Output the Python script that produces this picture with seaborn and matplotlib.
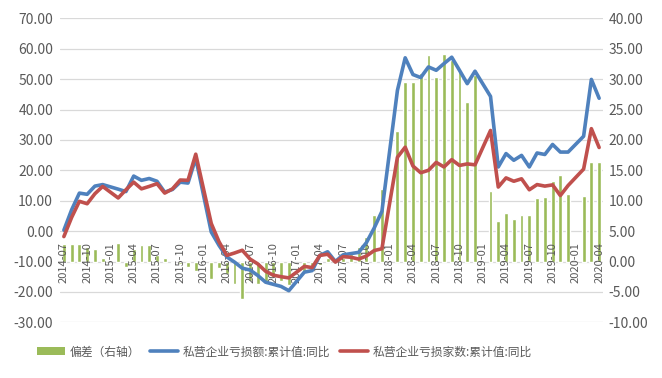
import numpy as np
import pandas as pd
import matplotlib
matplotlib.use("Agg")
import matplotlib.pyplot as plt
from matplotlib.patches import Patch
from matplotlib.lines import Line2D
from matplotlib.ticker import FormatStrFormatter
import seaborn as sns

# ---------------- data ----------------
months = [str(p) for p in pd.period_range("2014-07", "2020-04", freq="M")]
tick_labels = months[::3]

N = None
deviation = [2.8, 2.9, 2.9, 2.4, 2.1, 0.5, N, 3.0, -0.9, 2.1, 2.7, 2.7, 1.0, 0.6, -0.2, -0.4, -0.9, -1.5,
             N, -2.9, -1.1, -2.0, -3.7, -6.1, -3.2, -3.7, -3.3, -2.6, -3.2, -3.9,
             N, -1.8, -1.3, -0.5, 0.5, -0.3, 0.6, 1.2, 2.4, 4.0, 7.6, 12.0,
             N, 21.4, 29.5, 29.6, 31.0, 33.9, 30.4, 34.1, 33.1, 31.4, 26.3, 30.6,
             N, 11.6, 6.6, 8.0, 7.0, 7.7, 7.6, 10.4, 10.6, 13.3, 14.3, 11.1,
             N, 10.7, 16.4, 16.4]

loss_amount = [0.3, 7.0, 12.5, 12.1, 14.8, 15.3, N, 13.8, 13.0, 18.1, 16.7, 17.3, 16.4, 12.8, 13.7, 16.1, 15.8, 24.0,
               N, -0.3, -4.7, -8.5, -10.2, -12.2, -12.8, -14.6, -16.8, -17.5, -18.2, -19.6,
               N, -13.5, -13.0, -8.0, -6.8, -10.0, -7.8, -7.4, -7.0, -3.8, 1.0, 6.5,
               N, 46.3, 57.0, 51.5, 50.5, 54.0, 52.9, 55.1, 57.2, 52.9, 48.5, 52.6,
               N, 44.3, 21.1, 25.5, 23.3, 24.9, 21.1, 25.7, 25.2, 28.5, 26.0, 26.0,
               N, 31.2, 49.9, 43.7]

loss_firms = [-1.8, 4.5, 9.8, 9.0, 12.3, 14.7, N, 10.9, 13.6, 16.1, 13.9, 14.7, 15.6, 12.5, 13.9, 16.8, 16.7, 25.3,
              N, 2.5, -3.5, -8.0, -7.2, -6.3, -9.2, -10.8, -13.2, -14.5, -15.0, -15.4,
              N, -11.6, -12.0, -8.0, -7.6, -10.2, -8.4, -8.6, -9.2, -8.2, -6.4, -5.8,
              N, 24.3, 27.6, 21.4, 19.2, 20.0, 22.6, 21.1, 23.5, 21.6, 22.1, 21.8,
              N, 33.1, 14.5, 17.5, 16.4, 17.2, 13.6, 15.3, 14.8, 15.2, 11.7, 15.0,
              N, 20.4, 33.7, 27.5]

name_bar = "偏差（右轴）"
name_blue = "私营企业亏损额:累计值:同比"
name_red = "私营企业亏损家数:累计值:同比"

df = pd.DataFrame({
    "idx": np.arange(len(months)),
    "month": months,
    "bar": pd.to_numeric(pd.Series(deviation), errors="coerce"),
    "blue": pd.to_numeric(pd.Series(loss_amount), errors="coerce"),
    "red": pd.to_numeric(pd.Series(loss_firms), errors="coerce"),
})

GREEN = "#9BBB59"
BLUE = "#4F81BD"
RED = "#C0504D"
GRAY = "#595959"

sns.set_theme(style="white")
plt.rcParams["font.family"] = ["Noto Sans CJK SC", "DejaVu Sans"]

fig = plt.figure(figsize=(6.62, 3.78), dpi=100)
fig.patch.set_facecolor("white")
ax = fig.add_axes([60 / 662, 1 - 322.3 / 378, 543 / 662, 304 / 378])
ax2 = ax.twinx()

# bars on right scale (drawn on ax, below the lines)
sns.barplot(data=df.dropna(subset=["bar"]), x="idx", y="bar", native_scale=True,
            width=0.5, color=GREEN, saturation=1, errorbar=None, ax=ax, zorder=2)

# lines on left scale
sns.lineplot(data=df.dropna(subset=["blue"]), x="idx", y="blue", ax=ax2, color=BLUE,
             linewidth=2.6, solid_joinstyle="round", solid_capstyle="round")
sns.lineplot(data=df.dropna(subset=["red"]), x="idx", y="red", ax=ax2, color=RED,
             linewidth=2.6, solid_joinstyle="round", solid_capstyle="round")

ax.set_xlim(-0.5, len(months) - 0.5)
ax.set_ylim(-10, 40)
ax2.set_ylim(-30, 70)

ax.set_yticks(np.arange(-10, 41, 5))
ax2.set_yticks(np.arange(-30, 71, 10))
ax.yaxis.set_major_formatter(FormatStrFormatter("%.2f"))
ax2.yaxis.set_major_formatter(FormatStrFormatter("%.2f"))
ax.yaxis.tick_right()
ax2.yaxis.tick_left()

ax.set_axisbelow(True)
ax.grid(axis="y", color="#d9d9d9", linewidth=0.9)
ax.grid(axis="x", visible=False)
ax2.grid(False)

ax.set_xticks(np.arange(0, len(months), 3))
ax.set_xticklabels(tick_labels, rotation=90, fontsize=8, color=GRAY)
ax.tick_params(axis="x", length=0, pad=-57.6)
ax.xaxis.set_zorder(5)  # category labels above the bars, lines (other axes) still on top
ax.tick_params(axis="y", length=0, pad=4, labelsize=10, labelcolor=GRAY)
ax2.tick_params(axis="y", length=0, pad=5, labelsize=10, labelcolor=GRAY)

for a in (ax, ax2):
    a.set_xlabel("")
    a.set_ylabel("")
    for s in a.spines.values():
        s.set_visible(False)

handles = [Patch(facecolor=GREEN, edgecolor="none"),
           Line2D([0], [0], color=BLUE, lw=2.6),
           Line2D([0], [0], color=RED, lw=2.6)]
leg = fig.legend(handles, [name_bar, name_blue, name_red], loc="center",
                 bbox_to_anchor=(0.43, 0.069), ncol=3, frameon=False, fontsize=8.5,
                 handlelength=2.4, handletextpad=0.4, columnspacing=0.8)
for t in leg.get_texts():
    t.set_color(GRAY)

fig.savefig("out.png", dpi=100, facecolor="white")
